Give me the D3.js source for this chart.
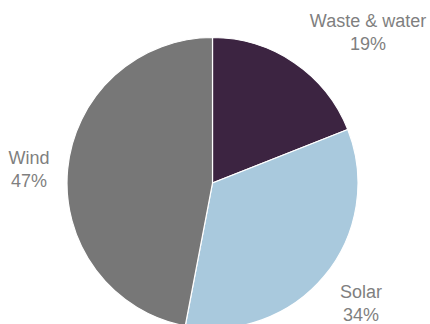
<!DOCTYPE html>
<html>
<head>
<meta charset="utf-8">
<script src="https://cdn.jsdelivr.net/npm/d3@7"></script>
<style>
  body { margin: 0; background: #fff; }
  svg { display: block; }
</style>
</head>
<body>
<script>
// slice data, clockwise from 12 o'clock
var categories = ['Waste & water', 'Solar', 'Wind'];
var shares = [19, 34, 47];
var colours = ['#3c2441', '#a9c9dd', '#777777'];
// label anchor points (centre of text block)
var labelX = [368, 361, 29];
var labelY = [21, 292, 158];

var width = 430, height = 324;
var cx = 212.5, cy = 183, radius = 145.5;

var svg = d3.select('body').append('svg')
  .attr('width', width)
  .attr('height', height);

var pie = d3.pie().sort(null).value(function(d){ return d; });
var arc = d3.arc().innerRadius(0).outerRadius(radius);

var g = svg.append('g').attr('transform', 'translate(' + cx + ',' + cy + ')');

g.selectAll('path')
  .data(pie(shares))
  .enter()
  .append('path')
  .attr('d', arc)
  .attr('fill', function(d,i){ return colours[i]; })
  .attr('stroke', '#fff')
  .attr('stroke-width', 1.2);

var labels = svg.append('g')
  .selectAll('text')
  .data(categories)
  .enter()
  .append('text')
  .attr('text-anchor', 'middle')
  .attr('font-family', 'Liberation Sans, Arial, sans-serif')
  .attr('font-size', 18)
  .attr('fill', '#7f7f7f');

labels.append('tspan')
  .attr('x', function(d,i){ return labelX[i]; })
  .attr('y', function(d,i){ return labelY[i] + 6; })
  .text(function(d){ return d; });

labels.append('tspan')
  .attr('x', function(d,i){ return labelX[i]; })
  .attr('y', function(d,i){ return labelY[i] + 29; })
  .text(function(d,i){ return shares[i] + '%'; });
</script>
</body>
</html>
